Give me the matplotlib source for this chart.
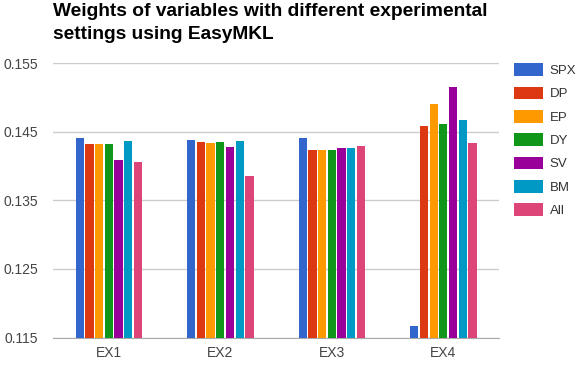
import matplotlib.pyplot as plt
import numpy as np

plt.rcParams['font.family'] = ['Liberation Sans', 'DejaVu Sans']

# experiments and variable weights
experiments = ['EX1', 'EX2', 'EX3', 'EX4']
variables = ['SPX', 'DP', 'EP', 'DY', 'SV', 'BM', 'All']

spx = [0.1441, 0.1438, 0.1441, 0.1167]
dp = [0.1432, 0.1435, 0.1423, 0.1458]
ep = [0.1432, 0.1433, 0.1424, 0.1490]
dy = [0.1432, 0.1435, 0.1423, 0.1462]
sv = [0.1409, 0.1428, 0.1426, 0.1516]
bm = [0.1437, 0.1437, 0.1426, 0.1467]
all_vars = [0.1406, 0.1386, 0.1430, 0.1433]

colors = ['#3366cc', '#dc3912', '#ff9900', '#109618', '#990099', '#0099c6', '#dd4477']

series = [spx, dp, ep, dy, sv, bm, all_vars]

fig = plt.figure(figsize=(5.77, 3.88), dpi=100)
ax = fig.add_axes([0.092, 0.130, 0.773, 0.707])

x = np.arange(len(experiments))
group = 0.61
width = group / len(series)
base = 0.115
for i, (name, vals, c) in enumerate(zip(variables, series, colors)):
    pos = x - group / 2 + width * (i + 0.5)
    ax.bar(pos, np.array(vals) - base, width * 0.85, bottom=base,
           color=c, label=name, zorder=3)

ax.set_xlim(-0.5, 3.5)
ax.set_ylim(0.115, 0.155)
ax.set_yticks([0.115, 0.125, 0.135, 0.145, 0.155])
ax.set_yticklabels(['0.115', '0.125', '0.135', '0.145', '0.155'])
ax.set_xticks(x, experiments)
ax.grid(axis='y', color='#cccccc', linewidth=1, zorder=0)
for s in ['top', 'right', 'left']:
    ax.spines[s].set_visible(False)
ax.spines['bottom'].set_color('#aaaaaa')
ax.tick_params(axis='both', length=0, labelsize=10, colors='#444444')
ax.tick_params(axis='y', pad=11)
ax.tick_params(axis='x', pad=6)

ax.legend(loc='upper left', bbox_to_anchor=(1.034, 1.0), frameon=False,
          fontsize=9.5, handlelength=2.2, handleheight=1.1,
          labelspacing=0.72, handletextpad=0.5, borderpad=0,
          borderaxespad=0, labelcolor='#333333')

fig.text(0.092, 0.993, 'Weights of variables with different experimental\nsettings using EasyMKL',
         fontsize=13.8, fontweight='bold', va='top', ha='left', linespacing=1.45)

plt.savefig('out.png', dpi=100)
